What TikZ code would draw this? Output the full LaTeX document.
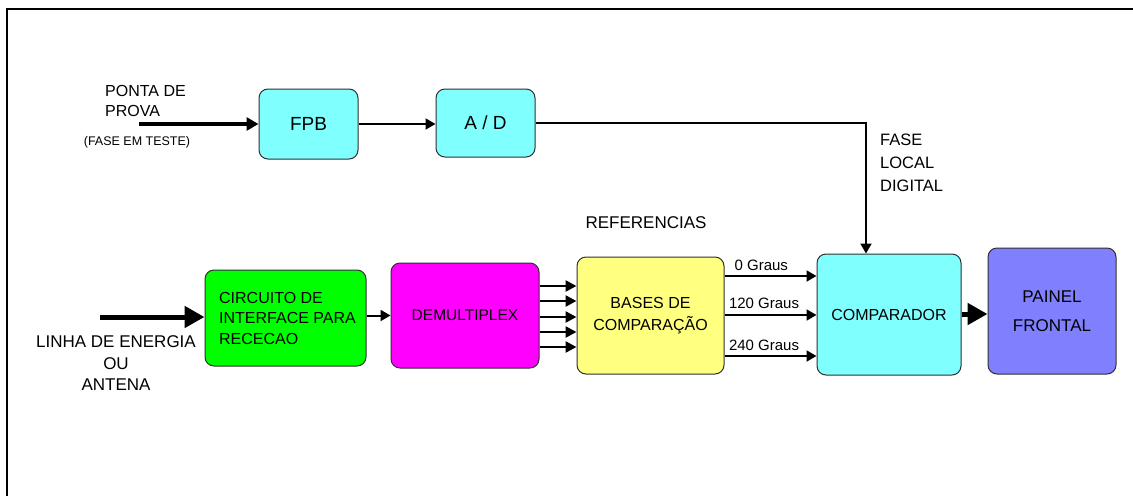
\documentclass[tikz,border=0pt]{standalone}
\usepackage{fontspec}
\setmainfont{Liberation Sans}
\usetikzlibrary{arrows.meta}
\definecolor{boxcyan}{HTML}{80FFFF}
\definecolor{boxgreen}{HTML}{00FF00}
\definecolor{boxmagenta}{HTML}{FF00FF}
\definecolor{boxyellow}{HTML}{FFFF80}
\definecolor{boxviolet}{HTML}{8080FF}
\definecolor{edgegray}{HTML}{303030}
\newcommand{\fs}[2]{\fontsize{#1}{#2}\selectfont}
\begin{document}
\begin{tikzpicture}[x=1pt,y=-1pt,
  block/.style={draw=edgegray, line width=1pt, rounded corners=9pt, inner sep=0pt, align=center},
  txt/.style={inner sep=0pt},
  thinarrow/.style={line width=2pt, -{Triangle[length=10pt,width=11pt]}},
  busarrow/.style={line width=2.5pt, -{Triangle[length=11pt,width=11pt]}},
  heavyarrow/.style={line width=5pt, -{Triangle[length=20pt,width=21pt]}},
  probearrow/.style={line width=4pt, -{Triangle[length=12pt,width=13pt]}}]
\useasboundingbox (0,0) rectangle (1133,496);
\fill[white] (0,0) rectangle (1133,496);

% outer frame (top and left edges)
\draw[line width=2pt] (7,496) -- (7,9) -- (1133,9);

% blocks
\node[block, fill=boxcyan, minimum width=99pt, minimum height=70pt, font=\fs{19}{22}] (fpb) at (308.5,124) {FPB};
\node[block, fill=boxcyan, minimum width=99pt, minimum height=68pt, font=\fs{19}{22}] (ad) at (485.5,123) {A / D};
\node[block, fill=boxgreen, minimum width=161pt, minimum height=96pt, align=left, font=\fs{16}{20.5}] (iface) at (285.5,318) {\hspace*{4pt}CIRCUITO DE\\\hspace*{4pt}INTERFACE PARA\\\hspace*{4pt}RECECAO};
\node[block, fill=boxmagenta, minimum width=148pt, minimum height=105pt, font=\fs{15.5}{18}] (demux) at (465,315.5) {DEMULTIPLEX};
\node[block, fill=boxyellow, minimum width=147pt, minimum height=117pt, font=\fs{16}{22}] (bases) at (650.5,315.5) {BASES DE\\COMPARAÇÃO};
\node[block, fill=boxcyan, minimum width=144pt, minimum height=121pt, font=\fs{16}{20}] (cmp) at (889,314.5) {COMPARADOR};
\node[block, fill=boxviolet, minimum width=128pt, minimum height=126pt, font=\fs{17}{29}] (panel) at (1052,311) {PAINEL\\FRONTAL};

% free labels
\node[txt, align=left, font=\fs{16}{20.5}, anchor=west] (probelbl) at (105,101) {PONTA DE\\PROVA};
\node[txt, font=\fs{12.5}{14}] (phaselbl) at (137,142) {(FASE EM TESTE)};
\node[txt, align=center, font=\fs{17}{21.5}] (linelbl) at (116,363.5) {LINHA DE ENERGIA\\OU\\ANTENA};
\node[txt, align=left, font=\fs{16.5}{23}, anchor=west] (locallbl) at (880,163) {FASE\\LOCAL\\DIGITAL};
\node[txt, font=\fs{17}{20}] (reflbl) at (646,223) {REFERENCIAS};

% connector end points
\coordinate (probe) at (139,124);
\coordinate (line) at (100,317);
\coordinate (turn) at (866,123);

% upper chain
\draw[probearrow] (probe) -- (fpb.west);
\draw[thinarrow] (fpb.east) -- (ad.west |- fpb.east);
\draw[thinarrow] (ad.east) -- (turn) -- (turn |- cmp.north);

% lower chain
\draw[heavyarrow] (line) -- (iface.west |- line);
\draw[thinarrow] (iface.east |- demux.west) -- (demux.west);
\foreach \yy in {286,301,317,332,347}
  \draw[busarrow] (demux.east |- 0,\yy) -- (bases.west |- 0,\yy);
\draw[thinarrow] (bases.east |- 0,276) -- (cmp.west |- 0,276)
  node[txt, pos=0.4, above=4.5pt, font=\fs{15}{17}] (g0) {0 Graus};
\draw[thinarrow] (bases.east |- 0,315) -- (cmp.west |- 0,315)
  node[txt, pos=0.43, above=5.5pt, font=\fs{15}{17}] (g120) {120 Graus};
\draw[thinarrow] (bases.east |- 0,356) -- (cmp.west |- 0,356)
  node[txt, pos=0.43, above=4pt, font=\fs{15}{17}] (g240) {240 Graus};
\draw[heavyarrow] (cmp.east |- 0,314) -- (panel.west |- 0,314);
\end{tikzpicture}
\end{document}
